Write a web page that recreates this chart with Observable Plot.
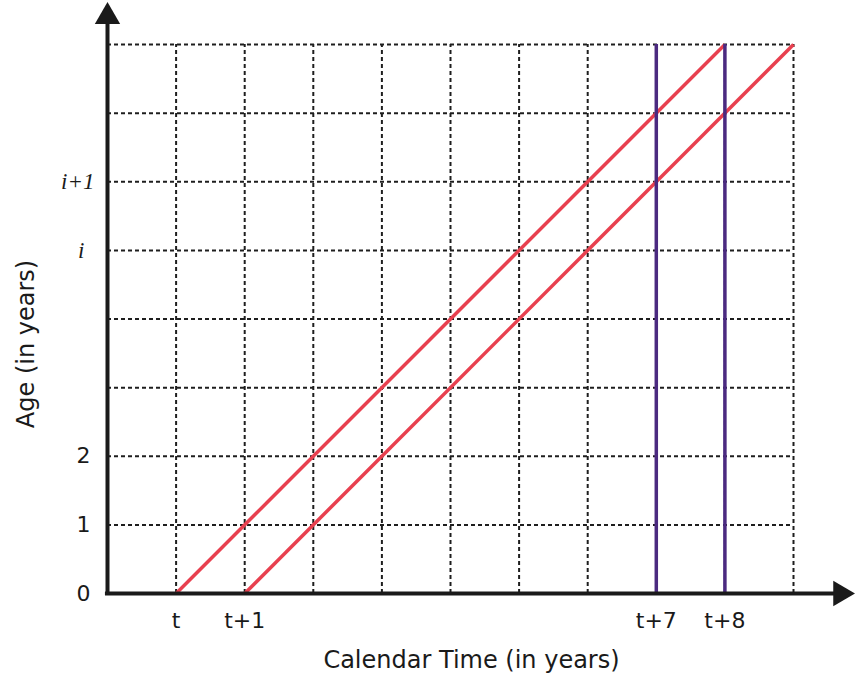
<!DOCTYPE html>
<html>
<head>
<meta charset="utf-8">
<script src="https://cdn.jsdelivr.net/npm/d3@7"></script>
<script src="https://cdn.jsdelivr.net/npm/@observablehq/plot@0.6"></script>
<style>
  html, body { margin: 0; padding: 0; background: #fff; }
  #chart svg { display: block; }
</style>
</head>
<body>
<div id="chart"></div>
<script>
// Calendar time (x) ticks and labels
const xTicks = [1, 2, 8, 9];
const xLabels = ["t", "t+1", "t+7", "t+8"];
// Age (y) ticks and labels
const yTicks = [0, 1, 2];
const yLabels = ["0", "1", "2"];
const yItalicTicks = [5, 6];
const yItalicLabels = ["i", "i+1"];
// Grid lines
const gridX = [1, 2, 3, 4, 5, 6, 7, 8, 9, 10];
const gridY = [1, 2, 3, 4, 5, 6, 7, 8];
// Cohort life lines (birth time, age 0) -> (time, age 8)
const cohortStart = [1, 2];
const cohortEnd = [9, 10];
const cohortAgeEnd = 8;
// Period lines
const periods = [8, 9];
const periodTop = 8;
// Axis extents
const xMax = 10, yMax = 8;
const xArrowTip = 10.9, yArrowTip = 8.62;

const cohorts = cohortStart.map((s, i) => ({x1: s, y1: 0, x2: cohortEnd[i], y2: cohortAgeEnd}));

const dash = {stroke: "#1e1e1e", strokeWidth: 2, strokeDasharray: "4,3"};
const sans = "DejaVu Sans, Verdana, sans-serif";
const serif = "Liberation Serif, Times New Roman, serif";

const chart = Plot.plot({
  width: 855,
  height: 681,
  marginLeft: 107,
  marginRight: 62,
  marginTop: 44,
  marginBottom: 88,
  style: {fontFamily: sans, background: "#fff"},
  x: {domain: [0, xMax], axis: null},
  y: {domain: [0, yMax], axis: null},
  marks: [
    Plot.ruleX(gridX, {y1: 0, y2: yMax, ...dash}),
    Plot.ruleY(gridY, {x1: 0, x2: xMax, ...dash}),
    Plot.link(cohorts, {x1: "x1", y1: "y1", x2: "x2", y2: "y2", stroke: "#e8404f", strokeWidth: 3.5}),
    Plot.ruleX(periods, {y1: 0, y2: periodTop, stroke: "#4b2a80", strokeWidth: 3.5}),
    // axes with arrows
    Plot.ruleY([0], {x1: -0.03, x2: xArrowTip - 0.25, stroke: "#1a1a1a", strokeWidth: 4}),
    Plot.ruleX([0], {y1: 0, y2: yArrowTip - 0.25, stroke: "#1a1a1a", strokeWidth: 4}),
    Plot.dot([0], {x: 0, y: yArrowTip, dy: 14.7, symbol: "triangle", r: 9.4, fill: "#1a1a1a", stroke: null}),
    Plot.dot([0], {x: xArrowTip, y: 0, dx: -14.7, symbol: "triangle", rotate: 90, r: 9.4, fill: "#1a1a1a", stroke: null}),
    // tick labels
    Plot.axisX({ticks: xTicks, tickFormat: d => xLabels[xTicks.indexOf(d)], tickSize: 0, tickPadding: 19, fontSize: 22, label: null, fill: "#1a1a1a"}),
    Plot.axisY({ticks: yTicks, tickFormat: d => yLabels[yTicks.indexOf(d)], tickSize: 0, tickPadding: 17, fontSize: 22, label: null, fill: "#1a1a1a"}),
    Plot.text([yItalicTicks[0]], {x: 0, y: d => d, text: () => yItalicLabels[0], textAnchor: "end", dx: -23, fontFamily: serif, fontStyle: "italic", fontSize: 23, fill: "#1a1a1a"}),
    Plot.text([yItalicTicks[1]], {x: 0, y: d => d, text: () => yItalicLabels[1], textAnchor: "end", dx: -13, fontFamily: serif, fontStyle: "italic", fontSize: 23, fill: "#1a1a1a"}),
    // axis titles
    Plot.text(["Calendar Time (in years)"], {frameAnchor: "bottom", text: d => d, dx: 21, dy: 74, fontSize: 24, fill: "#1a1a1a"}),
    Plot.text(["Age (in years)"], {frameAnchor: "left", textAnchor: "middle", text: d => d, rotate: -90, dx: -81, dy: 25, fontSize: 24, fill: "#1a1a1a"})
  ]
});
document.getElementById("chart").appendChild(chart);
</script>
</body>
</html>
